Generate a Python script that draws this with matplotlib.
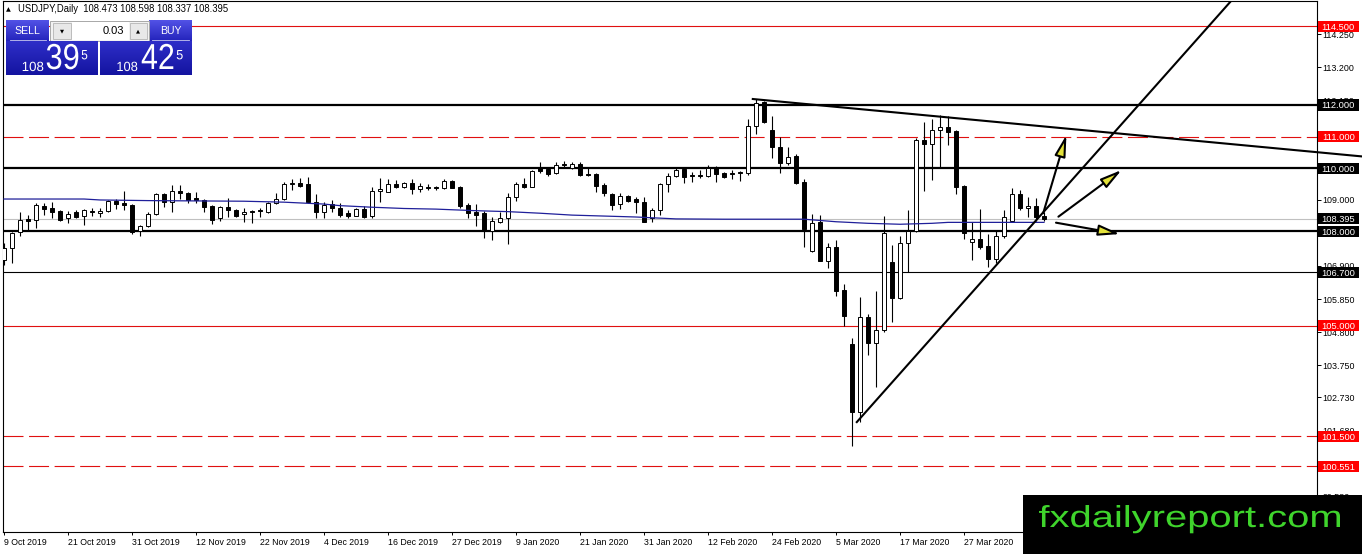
import matplotlib
matplotlib.use('Agg')
import matplotlib.pyplot as plt
import numpy as np
from matplotlib.patches import Rectangle, FancyArrowPatch, PathPatch
from matplotlib.textpath import TextPath
from matplotlib.font_manager import FontProperties
from matplotlib.transforms import Affine2D, blended_transform_factory
import matplotlib.colors as mcolors

plt.rcParams['font.family'] = ['Liberation Sans', 'DejaVu Sans']

# ---------------- data ----------------
opens = [107.09, 107.46, 107.98, 108.38, 108.36, 108.81, 108.72, 108.65, 108.41, 108.62,
         108.48, 108.64, 108.57, 108.64, 108.96, 108.88, 108.83, 108.01, 108.16, 108.53,
         109.17, 108.94, 109.27, 109.20, 109.04, 108.99, 108.80, 108.41, 108.76, 108.67,
         108.53, 108.64, 108.65, 108.60, 108.88, 109.01, 109.50, 109.52, 109.50, 108.94,
         108.60, 108.85, 108.72, 108.59, 108.49, 108.70, 108.48, 109.27, 109.24, 109.49,
         109.41, 109.52, 109.33, 109.40, 109.39, 109.36, 109.60, 109.41, 108.83, 108.62,
         108.57, 108.01, 108.30, 108.41, 109.07, 109.49, 109.41, 109.99, 109.97, 109.83,
         110.11, 110.01, 110.13, 109.81, 109.80, 109.46, 109.17, 108.86, 109.12, 109.01,
         108.92, 108.43, 108.66, 109.49, 109.76, 109.97, 109.76, 109.76, 109.75, 110.02,
         109.83, 109.84, 109.86, 109.83, 111.33, 112.08, 111.21, 110.66, 110.15, 110.38,
         109.57, 107.38, 108.28, 107.07, 107.49, 106.14, 104.42, 102.28, 105.27, 104.45,
         104.87, 107.01, 105.88, 107.64, 108.02, 110.89, 110.76, 111.21, 111.29, 111.19,
         109.43, 107.67, 107.74, 107.53, 107.11, 107.85, 108.32, 109.17, 108.72, 108.80,
         108.473]
highs = [107.63, 107.98, 108.62, 108.51, 108.90, 108.88, 108.92, 108.67, 108.64, 108.67,
         108.69, 108.72, 108.72, 108.99, 109.01, 109.28, 108.86, 108.20, 108.62, 109.22,
         109.20, 109.46, 109.46, 109.23, 109.25, 109.01, 108.83, 108.80, 109.04, 108.69,
         108.72, 108.67, 108.72, 108.94, 109.20, 109.57, 109.65, 109.68, 109.73, 109.17,
         108.94, 108.99, 108.88, 108.67, 108.72, 108.81, 109.41, 109.68, 109.65, 109.62,
         109.57, 109.65, 109.52, 109.50, 109.44, 109.65, 109.62, 109.44, 108.88, 108.85,
         108.64, 108.46, 108.62, 109.20, 109.57, 109.68, 109.94, 110.20, 110.01, 110.20,
         110.24, 110.20, 110.18, 110.05, 109.83, 109.52, 109.20, 109.20, 109.15, 109.09,
         109.09, 108.75, 109.52, 109.83, 109.99, 110.01, 109.89, 109.94, 110.10, 110.07,
         109.89, 109.94, 109.92, 111.55, 112.18, 112.14, 111.65, 111.00, 110.66, 110.45,
         109.65, 108.55, 108.51, 107.64, 107.72, 106.33, 104.60, 105.90, 105.38, 106.12,
         108.48, 107.56, 107.85, 108.66, 110.94, 111.47, 111.55, 111.68, 111.65, 111.21,
         109.46, 108.30, 108.69, 107.91, 108.04, 108.67, 109.36, 109.31, 109.07, 109.04,
         108.598]
lows = [106.93, 106.99, 107.85, 108.04, 108.09, 108.51, 108.43, 108.33, 108.27, 108.41,
        108.20, 108.48, 108.46, 108.62, 108.70, 108.67, 107.91, 107.85, 108.14, 108.51,
        108.78, 108.62, 109.01, 108.88, 108.88, 108.62, 108.23, 108.33, 108.46, 108.46,
        108.30, 108.25, 108.46, 108.57, 108.86, 108.99, 109.31, 109.41, 108.88, 108.41,
        108.41, 108.62, 108.46, 108.41, 108.48, 108.43, 108.43, 108.92, 109.24, 109.38,
        109.36, 109.17, 109.25, 109.31, 109.31, 109.34, 109.36, 108.72, 108.41, 108.18,
        107.80, 107.72, 108.25, 107.59, 108.96, 109.38, 109.39, 109.83, 109.76, 109.80,
        110.01, 109.97, 109.76, 109.76, 109.25, 109.13, 108.67, 108.70, 108.94, 108.57,
        108.28, 108.28, 108.51, 109.25, 109.73, 109.52, 109.57, 109.68, 109.71, 109.57,
        109.68, 109.65, 109.60, 109.78, 111.08, 111.44, 110.31, 109.86, 110.10, 109.50,
        107.49, 107.35, 107.04, 106.82, 105.96, 105.00, 101.19, 101.96, 104.08, 103.07,
        104.79, 105.13, 105.85, 106.72, 107.98, 109.28, 109.62, 110.04, 110.73, 109.18,
        107.74, 107.09, 107.43, 106.88, 106.98, 107.77, 108.30, 108.67, 108.44, 108.33,
        108.337]
closes = [107.47, 107.93, 108.36, 108.32, 108.83, 108.70, 108.62, 108.36, 108.56, 108.46,
          108.67, 108.60, 108.64, 108.96, 108.85, 108.83, 107.98, 108.16, 108.53, 109.17,
          108.94, 109.27, 109.22, 108.99, 108.99, 108.78, 108.36, 108.76, 108.67, 108.49,
          108.61, 108.62, 108.64, 108.90, 109.01, 109.49, 109.52, 109.44, 108.94, 108.60,
          108.83, 108.72, 108.51, 108.49, 108.70, 108.46, 109.27, 109.34, 109.49, 109.41,
          109.52, 109.33, 109.43, 109.38, 109.37, 109.60, 109.38, 108.80, 108.57, 108.51,
          108.04, 108.32, 108.43, 109.09, 109.49, 109.41, 109.91, 109.91, 109.80, 110.10,
          110.09, 110.13, 109.78, 109.79, 109.44, 109.22, 108.83, 109.12, 108.97, 108.92,
          108.30, 108.66, 109.49, 109.76, 109.94, 109.71, 109.74, 109.74, 110.01, 109.81,
          109.73, 109.82, 109.85, 111.33, 112.05, 111.47, 110.66, 110.15, 110.36, 109.54,
          108.06, 108.27, 107.07, 107.49, 106.12, 105.32, 102.28, 105.27, 104.45, 104.87,
          107.95, 105.88, 107.64, 108.02, 110.89, 110.76, 111.21, 111.29, 111.15, 109.41,
          107.93, 107.74, 107.51, 107.11, 107.85, 108.46, 109.17, 108.72, 108.80, 108.44,
          108.395]

date_label_bars = [0, 8, 16, 24, 32, 40, 48, 56, 64, 72, 80, 88, 96, 104, 112, 120]
date_labels = ['9 Oct 2019', '21 Oct 2019', '31 Oct 2019', '12 Nov 2019', '22 Nov 2019',
               '4 Dec 2019', '16 Dec 2019', '27 Dec 2019', '9 Jan 2020', '21 Jan 2020',
               '31 Jan 2020', '12 Feb 2020', '24 Feb 2020', '5 Mar 2020', '17 Mar 2020',
               '27 Mar 2020']

ma_bars = [0, 10, 12, 18, 30, 35, 40, 42, 46, 50, 54, 59, 63, 67, 71, 75, 79, 84,
           90, 100, 104, 108, 112, 116, 118, 130]
ma_values = [109.02, 109.02, 108.99, 108.97, 108.95, 108.92, 108.86, 108.81, 108.76,
             108.72, 108.70, 108.65, 108.62, 108.57, 108.51, 108.48, 108.45, 108.39,
             108.38, 108.38, 108.30, 108.25, 108.22, 108.25, 108.28, 108.28]

level_prices = [114.5, 112.0, 111.0, 110.0, 108.395, 108.0, 106.7, 105.0, 101.5, 100.551]
level_kinds = ['red', 'thick', 'reddash', 'thick', 'current', 'thick', 'thin', 'red',
               'reddash', 'reddash']
level_texts = ['114.500', '112.000', '111.000', '110.000', '108.395', '108.000',
               '106.700', '105.000', '101.500', '100.551']

ytick_values = [114.25, 113.2, 112.15, 111.1, 110.05, 109.0, 107.95, 106.9, 105.85,
                104.8, 103.75, 102.73, 101.68, 100.63, 99.58]

trend_down_x = [93.6, 169.75]
trend_down_y = [112.19, 110.37]
trend_up_x = [106.6, 153.5]
trend_up_y = [101.95, 115.33]
arrow_starts = [(129.9, 108.57), (131.8, 108.46), (131.5, 108.27)]
arrow_ends = [(132.8, 111.05), (139.7, 109.94), (139.5, 107.91)]

header_text = 'USDJPY,Daily  108.473 108.598 108.337 108.395'
sell_big, sell_small, sell_pip = '39', '108', '5'
buy_big, buy_small, buy_pip = '42', '108', '5'

# ---------------- figure ----------------
W, H = 1362, 554
fig = plt.figure(figsize=(W / 100, H / 100), dpi=100, facecolor='white')
px_left, px_right, px_top, px_bottom = 2.7, 1316.7, 1.0, 532.0
ax = fig.add_axes([px_left / W, (H - px_bottom) / H, (px_right - px_left) / W,
                   (px_bottom - px_top) / H])
ax.set_facecolor('white')

n = len(opens)
x = np.arange(n)
o = np.array(opens); c = np.array(closes); hi = np.array(highs); lo = np.array(lows)

# horizontal levels
for p, k in zip(level_prices, level_kinds):
    if k == 'thick':
        ax.axhline(p, color='black', lw=1.6, zorder=1.5)
    elif k == 'thin':
        ax.axhline(p, color='black', lw=0.8, zorder=1.5)
    elif k == 'red':
        ax.axhline(p, color='#e01010', lw=0.8, zorder=1.5)
    elif k == 'reddash':
        ax.axhline(p, color='#e01010', lw=0.8, linestyle=(0, (18, 5)), zorder=1.5)
    elif k == 'current':
        ax.axhline(p, color='#c0c0c0', lw=0.8, zorder=1.4)

# candles
ax.vlines(x, lo, hi, color='black', lw=0.8, zorder=3)
bottoms = np.minimum(o, c)
heights = np.maximum(np.abs(c - o), 0.03)
body_colors = ['white' if cc > oo else 'black' for oo, cc in zip(o, c)]
ax.bar(x, heights, width=0.6, bottom=bottoms, color=body_colors, edgecolor='black',
       linewidth=0.7, zorder=4)

# moving average
ax.plot(ma_bars, ma_values, color='#1f1f9a', lw=0.9, zorder=5)

# trend lines
ax.plot(trend_down_x, trend_down_y, color='black', lw=1.5, zorder=6, clip_on=False)
ax.plot(trend_up_x, trend_up_y, color='black', lw=1.5, zorder=6)

for s, e in zip(arrow_starts, arrow_ends):
    arr = FancyArrowPatch(s, e, arrowstyle='-|>,head_length=1.3,head_width=0.33',
                          mutation_scale=10, lw=1.5, ec='black', fc='#e3e23a',
                          shrinkA=0, shrinkB=0, zorder=7)
    ax.add_patch(arr)

ax.set_xlim((px_left - 4) / 8, (px_right - 4) / 8)
ax.set_ylim(112 - (px_bottom - 105) / 31.55, 112 + (105 - px_top) / 31.55)

# axes styling
for sp in ax.spines.values():
    sp.set_color('black')
    sp.set_linewidth(0.8)
ax.yaxis.tick_right()
ax.set_yticks(ytick_values)
ax.set_yticklabels([f'{v:.3f}' for v in ytick_values])
ax.tick_params(axis='y', length=3, width=0.7, pad=1.2, labelsize=6.4, colors='black')
ax.set_xticks(date_label_bars)
ax.set_xticklabels(date_labels)
for lab in ax.get_xticklabels():
    lab.set_ha('left')
ax.tick_params(axis='x', length=2.5, width=0.7, pad=1.5, labelsize=6.3, colors='black')

# level price boxes on right axis
tr = blended_transform_factory(ax.transAxes, ax.transData)
box_colors = {'red': '#ff0000', 'reddash': '#ff0000', 'thick': 'black', 'thin': 'black',
              'current': 'black'}
span = px_right - px_left
bx0 = (1318.0 - px_left) / span
bw = 40.5 / span
bh = 11.0 / 31.55
for p, k, t in zip(level_prices, level_kinds, level_texts):
    ax.add_patch(Rectangle((bx0, p - bh / 2), bw, bh, transform=tr, fc=box_colors[k],
                           ec='none', clip_on=False, zorder=8))
    ax.text(bx0 + bw / 2, p, t, transform=tr, ha='center', va='center_baseline',
            fontsize=6.7, color='white', clip_on=False, zorder=9)

# ---------------- overlay (widget, header, logo) ----------------
oax = fig.add_axes([0, 0, 1, 1])
oax.set_xlim(0, W); oax.set_ylim(H, 0)
oax.axis('off')
oax.patch.set_alpha(0)


def grad(x0, y0, w, h, ctop, cbot, z=2):
    c1 = np.array(mcolors.to_rgb(ctop)); c2 = np.array(mcolors.to_rgb(cbot))
    t = np.linspace(0, 1, 40)[:, None, None]
    img = c1 * (1 - t) + c2 * t
    oax.imshow(img, extent=(x0, x0 + w, y0 + h, y0), aspect='auto',
               interpolation='bilinear', zorder=z)


def fit_text(s, x0, x1, ytop, ybase, color, z=4, family='Liberation Sans'):
    tp = TextPath((0, 0), s, size=30, prop=FontProperties(family=family))
    ext = tp.get_extents()
    sx = (x1 - x0) / ext.width
    sy = (ybase - ytop) / ext.y1
    trf = Affine2D().translate(-ext.x0, 0).scale(sx, -sy).translate(x0, ybase) + oax.transData
    oax.add_patch(PathPatch(tp, fc=color, ec='none', transform=trf, zorder=z))


# header
oax.text(8.5, 9.5, '\u25b2', fontsize=4.5, ha='center', va='center', color='black',
         family=['DejaVu Sans'])
oax.text(18, 9.3, header_text, fontsize=6.85, ha='left', va='center', color='black')

# SELL / BUY buttons
grad(6, 20.5, 43, 20.5, '#5252e6', '#2424bc')
grad(149, 20.5, 43, 20.5, '#5252e6', '#2424bc')
oax.plot([10, 46], [40.3, 40.3], color='#c8c8f0', lw=0.6, zorder=3)
oax.plot([152, 189], [40.3, 40.3], color='#c8c8f0', lw=0.6, zorder=3)
oax.text(27.5, 30.5, 'SELL', fontsize=7.6, color='white', ha='center', va='center', zorder=4)
oax.text(170.5, 30.5, 'BUY', fontsize=7.6, color='white', ha='center', va='center', zorder=4)

# spinner
oax.add_patch(Rectangle((49.5, 20.5), 99, 20.5, fc='#f2f2f2', ec='#a8a8a8', lw=0.7, zorder=2))
oax.add_patch(Rectangle((72, 21.5), 56.5, 18.5, fc='white', ec='none', zorder=2.5))
oax.add_patch(Rectangle((53, 23), 17.5, 16, fc='#e8e8e8', ec='#b4b4b4', lw=0.6, zorder=3))
oax.add_patch(Rectangle((129.5, 23), 17, 16, fc='#e8e8e8', ec='#b4b4b4', lw=0.6, zorder=3))
oax.text(61.8, 31, '\u25bc', fontsize=3.8, ha='center', va='center', color='black',
         family=['DejaVu Sans'], zorder=4)
oax.text(138, 30.5, '\u25b2', fontsize=3.8, ha='center', va='center', color='black',
         family=['DejaVu Sans'], zorder=4)
oax.text(124, 30.5, '0.03', fontsize=8, ha='right', va='center', color='black', zorder=4)

# big price boxes
grad(6, 42, 92, 33.5, '#2e2ec8', '#1414a0')
grad(100, 42, 92, 33.5, '#2e2ec8', '#1414a0')
fit_text(sell_small, 22.7, 43.3, 61.7, 71.0, 'white')
fit_text(sell_big, 46.7, 78.3, 43.8, 69.0, 'white')
fit_text(sell_pip, 81.7, 87.3, 50.0, 59.3, 'white')
fit_text(buy_small, 117.3, 137.3, 61.7, 71.0, 'white')
fit_text(buy_big, 141.7, 173.3, 43.8, 69.0, 'white')
fit_text(buy_pip, 176.7, 182.7, 50.0, 59.3, 'white')

# logo
oax.add_patch(Rectangle((1022.5, 495), W - 1022.5, H - 495, fc='black', ec='none', zorder=5))
fit_text('fxdailyreport.com', 1039, 1340, 505, 527, '#3fd42c', z=6)

oax.set_xlim(0, W); oax.set_ylim(H, 0)

fig.savefig('out.png', dpi=100, facecolor='white')
